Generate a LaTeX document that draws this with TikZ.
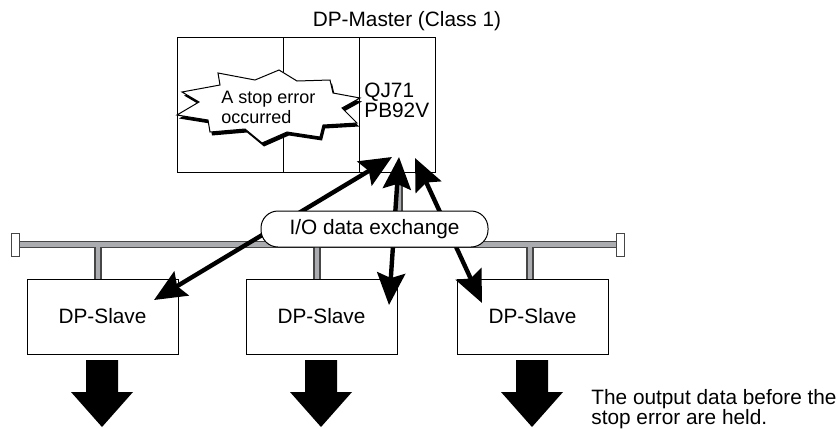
\documentclass[tikz,border=0pt]{standalone}
\usepackage{fontspec}
\setmainfont{Liberation Sans}
\usetikzlibrary{arrows.meta, positioning}

\definecolor{busgray}{RGB}{170,172,175}
\definecolor{busedge}{RGB}{70,70,70}

\newcommand{\burstshape}{(218,73) -- (255,80) -- (279,70) -- (297,81)
  -- (330,80) -- (333,93) -- (360,98) -- (342,108) -- (357,123)
  -- (323,125) -- (320,137) -- (287,132) -- (262,143) -- (245,129)
  -- (210,132) -- (208,120) -- (177,115) -- (199,102) -- (182,92)
  -- (220,85) -- cycle}

\tikzset{
  unitbox/.style={draw, fill=white, line width=0.5pt, inner sep=0pt},
  slavebox/.style={unitbox, minimum width=75.5pt, minimum height=37.5pt},
  bus/.style={draw=busedge, line width=3.6pt,
              postaction={draw=busgray, line width=2.4pt}},
  busend/.style={draw=busedge, fill=white, line width=0.5pt},
  xchg/.style={line width=2.2pt,
               {Stealth[length=16pt, width=14pt, inset=2.5pt]}-{Stealth[length=16pt, width=14pt, inset=2.5pt]}},
  bigdown/.style={fill=black}
}

\begin{document}
\begin{tikzpicture}[x=0.5pt, y=-0.5pt, font=\fontsize{10.4}{10}\selectfont]
  \useasboundingbox (0,0) rectangle (838,428);

  % Master station
  \node[unitbox, minimum width=129pt, minimum height=67.5pt] (master) at (306,104.5) {};
  \draw[line width=0.5pt] (283,37) -- (283,172);
  \draw[line width=0.5pt] (359,37) -- (359,172);
  \node (mastertitle) at (407,21) {DP-Master (Class 1)};
  \node[anchor=west, align=left, inner sep=0pt] (cpu) at (364,100) {QJ71\\PB92V};

  % Stop error burst
  \fill[black, shift={(2,3.5)}] \burstshape;
  \filldraw[fill=white, line width=0.5pt] \burstshape;
  \node[anchor=west, align=left, inner sep=0pt,
        font=\fontsize{9}{10}\selectfont] (stoptext) at (221,107) {A stop error\\occurred};

  % Slave stations
  \node[slavebox] (slaveA) at (102.5,316.5) {DP-Slave};
  \node[slavebox] (slaveB) at (321.5,316.5) {DP-Slave};
  \node[slavebox] (slaveC) at (532.5,316.5) {DP-Slave};

  % Network
  \path[bus] (19,244.5) -- (616,244.5)
             (399,172) -- (399,244.5)
             (98,244.5) -- (98,279)
             (317,244.5) -- (317,279)
             (530,244.5) -- (530,279);
  \draw[busend] (11,233) rectangle (19,256);
  \draw[busend] (616,233) rectangle (624,256);

  % Data exchange
  \coordinate (mA) at (392,157);
  \coordinate (mB) at (399,157);
  \coordinate (mC) at (415,158);
  \coordinate (sA) at (154,300);
  \coordinate (sB) at (389,305);
  \coordinate (sC) at (482,303);
  \draw[xchg] (mA) -- (sA);
  \draw[xchg] (mB) -- (sB);
  \draw[xchg] (mC) -- (sC);
  \node[draw, fill=white, line width=0.5pt, rounded corners=8.5pt,
        minimum width=113.5pt, minimum height=18pt] (iox) at (374.5,229) {I/O data exchange};

  % Held outputs
  \foreach \c in {102,321,532}
    \fill[black] (\c-16,360) -- (\c+16,360) -- (\c+16,392) -- (\c+31,392)
      -- (\c,427) -- (\c-31,392) -- (\c-16,392) -- cycle;
  \node[anchor=west, align=left, inner sep=0pt] (heldnote) at (591,409)
    {The output data before the\\stop error are held.};
\end{tikzpicture}
\end{document}
